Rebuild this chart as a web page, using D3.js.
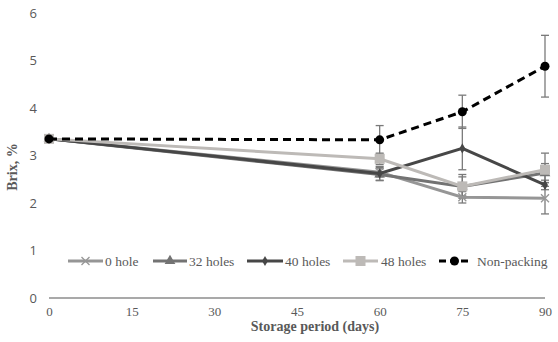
<!DOCTYPE html>
<html><head><meta charset="utf-8">
<script src="https://cdn.jsdelivr.net/npm/d3@7"></script>
<style>body{margin:0;background:#fff;}svg{display:block;}</style>
</head><body>
<svg id="c" width="558" height="342"></svg>
<script>
const days = [0, 60, 75, 90];
const xTicks = [0, 15, 30, 45, 60, 75, 90];
const yTicks = [0, 1, 2, 3, 4, 5, 6];
const seriesNames = ["0 hole", "32 holes", "40 holes", "48 holes", "Non-packing"];
const hole0 = [3.35, 2.65, 2.12, 2.10];
const hole0Err = [0.03, 0.10, 0.12, 0.33];
const hole32 = [3.35, 2.60, 2.35, 2.63];
const hole32Err = [0.03, 0.12, 0.20, 0.20];
const hole40 = [3.35, 2.62, 3.15, 2.38];
const hole40Err = [0.03, 0.15, 0.45, 0.10];
const hole48 = [3.35, 2.93, 2.35, 2.70];
const hole48Err = [0.03, 0.12, 0.25, 0.35];
const nonPacking = [3.35, 3.33, 3.92, 4.88];
const nonPackingErr = [0.03, 0.30, 0.35, 0.65];

const styles = [
  {color:"#969696", marker:"x", dash:null},
  {color:"#737373", marker:"tri", dash:null},
  {color:"#474747", marker:"dia", dash:null},
  {color:"#bdbab7", marker:"sq", dash:null},
  {color:"#000000", marker:"circ", dash:"8,5"}
];
const values = [hole0, hole32, hole40, hole48, nonPacking];
const errs = [hole0Err, hole32Err, hole40Err, hole48Err, nonPackingErr];

const svg = d3.select("#c");
const x = d3.scaleLinear().domain([0, 90]).range([49, 545]);
const y = d3.scaleLinear().domain([0, 6]).range([298, 13]);

// x axis line
svg.append("line").attr("x1", 49).attr("x2", 545).attr("y1", y(0)).attr("y2", y(0))
  .attr("stroke", "#8c8c8c").attr("stroke-width", 1.3);

const xAxis = d3.axisBottom(x).tickValues(xTicks).tickSize(0).tickPadding(9);
const gx = svg.append("g").attr("transform", `translate(0,${y(0)})`).call(xAxis);
gx.select(".domain").remove();
gx.selectAll("text").attr("font-family", "Liberation Serif, serif").attr("font-size", 13).attr("fill", "#595959");

const yAxis = d3.axisLeft(y).tickValues(yTicks).tickSize(0).tickPadding(0).tickFormat(d3.format("d"));
const gy = svg.append("g").attr("transform", `translate(37,0)`).call(yAxis);
gy.select(".domain").remove();
gy.selectAll("text").attr("font-family", "Open Sans, DejaVu Sans, sans-serif").attr("font-size", 13).attr("fill", "#595959");

// axis titles
svg.append("text").attr("x", 315).attr("y", 331).attr("text-anchor", "middle")
  .attr("font-family", "Liberation Serif, serif").attr("font-weight", "bold").attr("font-size", 14)
  .attr("fill", "#595959").text("Storage period (days)");
svg.append("text").attr("transform", "translate(17,167) rotate(-90)").attr("text-anchor", "middle")
  .attr("font-family", "Liberation Serif, serif").attr("font-weight", "bold").attr("font-size", 14)
  .attr("fill", "#595959").text("Brix, %");

// error bars
values.forEach((vals, i) => {
  const g = svg.append("g");
  vals.forEach((v, j) => {
    const e = errs[i][j];
    const cx = x(days[j]);
    g.append("line").attr("x1", cx).attr("x2", cx).attr("y1", y(v - e)).attr("y2", y(v + e))
      .attr("stroke", "#7a7a7a").attr("stroke-width", 1.3);
    [v - e, v + e].forEach(t => g.append("line").attr("x1", cx - 4).attr("x2", cx + 4)
      .attr("y1", y(t)).attr("y2", y(t)).attr("stroke", "#7a7a7a").attr("stroke-width", 1.3));
  });
});

function drawMarker(g, type, cx, cy, color) {
  if (type === "x") {
    g.append("path").attr("d", `M${cx-4},${cy-4}L${cx+4},${cy+4}M${cx-4},${cy+4}L${cx+4},${cy-4}`)
      .attr("stroke", color).attr("stroke-width", 1.3).attr("fill", "none");
  } else if (type === "tri") {
    g.append("path").attr("d", d3.symbol(d3.symbolTriangle, 50)()).attr("transform", `translate(${cx},${cy})`).attr("fill", color);
  } else if (type === "dia") {
    g.append("path").attr("d", d3.symbol(d3.symbolDiamond, 30)()).attr("transform", `translate(${cx},${cy})`).attr("fill", color);
  } else if (type === "sq") {
    g.append("rect").attr("x", cx - 5).attr("y", cy - 5).attr("width", 10).attr("height", 10).attr("fill", color);
  } else if (type === "circ") {
    g.append("circle").attr("cx", cx).attr("cy", cy).attr("r", 4.5).attr("fill", color);
  }
}

const line = d3.line().x((d, j) => x(days[j])).y(d => y(d));
values.forEach((vals, i) => {
  const st = styles[i];
  const g = svg.append("g");
  g.append("path").attr("d", line(vals)).attr("fill", "none").attr("stroke", st.color)
    .attr("stroke-width", 3).attr("stroke-dasharray", st.dash);
  vals.forEach((v, j) => drawMarker(g, st.marker, x(days[j]), y(v), st.color));
});

// legend
const legendPos = [[68, 103, 105], [153, 187, 189], [247, 283, 285], [343, 378, 381], [439, 470, 477]];
const ly = 261;
seriesNames.forEach((name, i) => {
  const st = styles[i];
  const [a, b, t] = legendPos[i];
  const g = svg.append("g");
  g.append("line").attr("x1", a).attr("x2", b).attr("y1", ly).attr("y2", ly).attr("stroke", st.color)
    .attr("stroke-width", 3).attr("stroke-dasharray", st.dash ? "7,4" : null);
  drawMarker(g, st.marker, (a + b) / 2, ly, st.color);
  g.append("text").attr("x", t).attr("y", ly + 4.5).attr("font-family", "Liberation Serif, serif")
    .attr("font-size", 13.5).attr("fill", "#595959").text(name);
});
</script>
</body></html>
